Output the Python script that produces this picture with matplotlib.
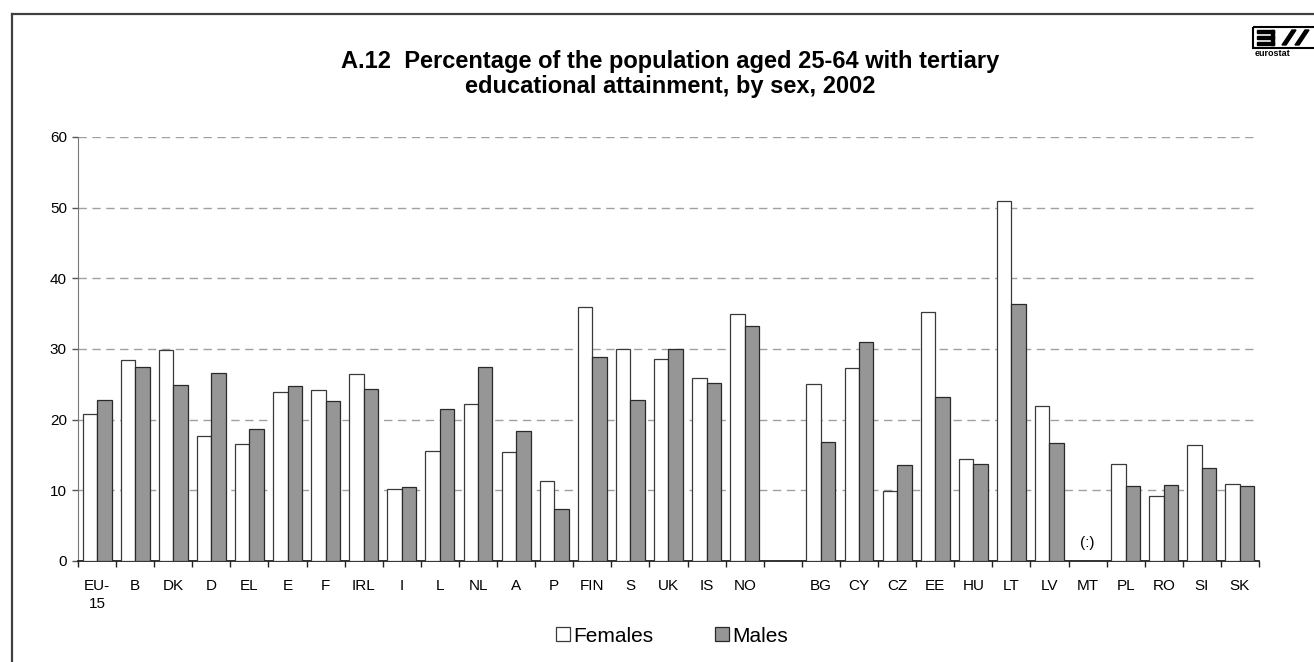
import numpy as np
import matplotlib.pyplot as plt
from matplotlib.lines import Line2D
from matplotlib.patches import Rectangle, Polygon

plt.rcParams['font.family'] = ['Liberation Sans', 'DejaVu Sans']

# ----- Data: % of population aged 25-64 with tertiary education, 2002 -----
eu_labels = ["EU-\n15", "B", "DK", "D", "EL", "E", "F", "IRL", "I", "L",
             "NL", "A", "P", "FIN", "S", "UK", "IS", "NO"]
eu_females = [20.8, 28.5, 29.9, 17.7, 16.5, 23.9, 24.2, 26.4, 10.2, 15.6,
              22.2, 15.4, 11.3, 36.0, 30.0, 28.6, 25.9, 35.0]
eu_males = [22.8, 27.4, 24.9, 26.6, 18.7, 24.7, 22.7, 24.4, 10.5, 21.5,
            27.4, 18.4, 7.3, 28.9, 22.8, 30.0, 25.2, 33.3]

nm_labels = ["BG", "CY", "CZ", "EE", "HU", "LT", "LV", "MT", "PL", "RO",
             "SI", "SK"]
nm_females = [25.1, 27.3, 9.9, 35.3, 14.5, 50.9, 22.0, np.nan, 13.7, 9.2,
              16.4, 10.9]
nm_males = [16.9, 31.0, 13.6, 23.2, 13.7, 36.4, 16.7, np.nan, 10.6, 10.8,
            13.2, 10.6]

labels = eu_labels + nm_labels
females = np.array(eu_females + nm_females)
males = np.array(eu_males + nm_males)
# one empty slot between the two country groups
pos = np.r_[np.arange(len(eu_labels)), np.arange(len(nm_labels)) + len(eu_labels) + 1]
n_slots = len(eu_labels) + 1 + len(nm_labels)

W, H = 1314, 662
fig = plt.figure(figsize=(W / 100, H / 100), dpi=100)
ax = fig.add_axes([78 / W, 1 - 561 / H, (1259 - 78) / W, (561 - 137) / H])

bw = 0.38
ax.bar(pos - bw, females, width=bw, align='edge', color='white',
       edgecolor='#3a3a3a', linewidth=0.9, label='Females', zorder=3)
ax.bar(pos, males, width=bw, align='edge', color='#969696',
       edgecolor='#2a2a2a', linewidth=0.9, label='Males', zorder=3)

# not available marker
mt = labels.index("MT")
ax.text(pos[mt], 2.6, "(:)", ha='center', va='center', fontsize=11)

ax.set_xlim(-0.5, n_slots - 0.5)
ax.set_ylim(0, 60)
ax.set_yticks(np.arange(0, 61, 10))
ax.set_xticks(pos)
ax.set_xticklabels(labels, fontsize=11, linespacing=1.4, va='top')
ax.set_xticks(np.arange(-0.5, n_slots, 1), minor=True)
ax.tick_params(axis='x', which='major', length=0, pad=13)
ax.tick_params(axis='x', which='minor', length=4, width=1, color='#222222',
               direction='out')
ax.tick_params(axis='y', length=4, width=1, color='#555555', labelsize=11,
               pad=4)

ax.yaxis.grid(True, linestyle=(0, (6, 4)), color='#a0a0a0', linewidth=1)
ax.set_axisbelow(True)
for s in ('top', 'right'):
    ax.spines[s].set_visible(False)
ax.spines['left'].set_color('#777777')
ax.spines['bottom'].set_color('#111111')
ax.spines['bottom'].set_linewidth(1.2)

fig.text(670 / W, 1 - 74 / H,
         "A.12  Percentage of the population aged 25-64 with tertiary\n"
         "educational attainment, by sex, 2002",
         ha='center', va='center', fontsize=17, fontweight='bold',
         linespacing=1.15)

fig.legend(loc='center', bbox_to_anchor=(672 / W, 1 - 636 / H), ncol=2,
           frameon=False, fontsize=15, handlelength=0.65, handleheight=0.65,
           handletextpad=0.15, columnspacing=3.0)

# frame around the chart (top and left edges)
fig.add_artist(Line2D([12 / W, 1], [1 - 13.5 / H] * 2, color='#404040', lw=1.6))
fig.add_artist(Line2D([12 / W] * 2, [0, 1 - 13.5 / H], color='#404040', lw=1.6))

# eurostat logo, drawn in pixel coordinates
lg = fig.add_axes([1250 / W, 1 - 62 / H, 64 / W, 38 / H])
lg.set_xlim(1250, 1314)
lg.set_ylim(62, 24)
lg.axis('off')
lg.add_patch(Rectangle((1253, 27), 70, 21, fill=False, edgecolor='black', lw=1.5))
for y0 in (30, 36, 42):
    lg.add_patch(Rectangle((1257, y0), 17, 3.2, color='black'))
lg.add_patch(Rectangle((1271, 30), 3, 15.2, color='black'))
lg.add_patch(Polygon([(1282, 45), (1286, 45), (1296, 30), (1292, 30)], color='black'))
lg.add_patch(Polygon([(1295, 45), (1299, 45), (1309, 30), (1305, 30)], color='black'))
lg.text(1255, 54, "eurostat", fontsize=6.5, fontweight='bold', va='center',
        ha='left')

fig.savefig("out.png", dpi=100)
